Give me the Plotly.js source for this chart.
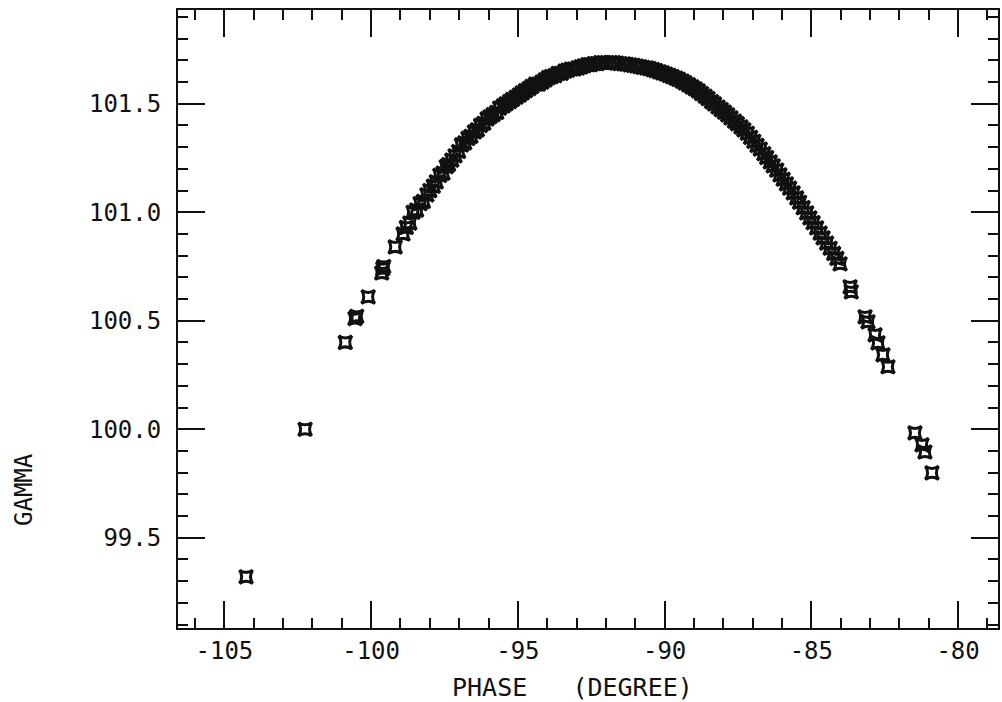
<!DOCTYPE html>
<html>
<head>
<meta charset="utf-8">
<script src="https://cdn.plot.ly/plotly-3.0.1.min.js"></script>
<style>
  html, body { margin: 0; padding: 0; background: #fff; }
  #plot { width: 1002px; height: 702px; }
</style>
</head>
<body>
<div id="plot"></div>
<script>
// Measured beam gamma versus RF phase
const phase = [
  -104.26, -102.25, -100.88, -100.55, -100.49, -100.10, -99.64, -99.60, -99.57, -99.18,
  -98.91, -98.80, -98.68, -98.57, -98.45, -98.33, -98.22, -98.10, -98.00, -97.88,
  -97.78, -97.66, -97.55, -97.44, -97.36, -97.25, -97.14, -97.02, -96.92, -96.81,
  -96.70, -96.60, -96.48, -96.38, -96.27, -96.16, -96.05, -95.95, -95.84, -95.72,
  -95.62, -95.50, -95.40, -95.28, -95.18, -95.06, -94.95, -94.85, -94.74, -94.62,
  -94.52, -94.40, -94.30, -94.18, -94.07, -93.96, -93.86, -93.74, -93.63, -93.52,
  -93.40, -93.30, -93.18, -93.08, -92.96, -92.85, -92.74, -92.62, -92.52, -92.40,
  -92.30, -92.18, -92.07, -91.96, -91.85, -91.74, -91.63, -91.52, -91.40, -91.30,
  -91.18, -91.07, -90.96, -90.85, -90.74, -90.62, -90.52, -90.40, -90.30, -90.18,
  -90.07, -89.96, -89.85, -89.74, -89.62, -89.52, -89.40, -89.30, -89.18, -89.07,
  -88.96, -88.85, -88.74, -88.62, -88.52, -88.40, -88.30, -88.18, -88.07, -87.96,
  -87.85, -87.74, -87.62, -87.52, -87.40, -87.30, -87.18, -87.07, -86.96, -86.85,
  -86.74, -86.62, -86.52, -86.40, -86.30, -86.18, -86.07, -85.96, -85.85, -85.74,
  -85.62, -85.50, -85.40, -85.28, -85.16, -85.05, -84.94, -84.82, -84.70, -84.60,
  -84.48, -84.36, -84.24, -84.13, -84.02, -83.68, -83.64, -83.17, -83.07, -82.83,
  -82.73, -82.56, -82.39, -81.47, -81.23, -81.13, -80.89
];
const gamma = [
  99.32, 100.00, 100.40, 100.51, 100.52, 100.61, 100.72, 100.74, 100.75, 100.84,
  100.90, 100.93, 100.95, 101.00, 101.01, 101.04, 101.05, 101.08, 101.10, 101.12,
  101.14, 101.17, 101.18, 101.21, 101.22, 101.24, 101.26, 101.28, 101.31, 101.32,
  101.34, 101.35, 101.37, 101.38, 101.40, 101.41, 101.43, 101.44, 101.45, 101.46,
  101.48, 101.49, 101.50, 101.51, 101.52, 101.53, 101.54, 101.55, 101.56, 101.57,
  101.58, 101.59, 101.59, 101.60, 101.61, 101.62, 101.625, 101.63, 101.64, 101.64,
  101.65, 101.655, 101.66, 101.66, 101.665, 101.67, 101.675, 101.68, 101.68, 101.685,
  101.685, 101.69, 101.69, 101.69, 101.69, 101.69, 101.687, 101.685, 101.684, 101.682,
  101.679, 101.677, 101.674, 101.671, 101.668, 101.665, 101.662, 101.657, 101.653, 101.647,
  101.642, 101.637, 101.631, 101.625, 101.618, 101.612, 101.604, 101.596, 101.587, 101.578,
  101.569, 101.559, 101.547, 101.535, 101.524, 101.510, 101.499, 101.485, 101.473, 101.461,
  101.449, 101.435, 101.420, 101.408, 101.393, 101.380, 101.364, 101.345, 101.327, 101.308,
  101.291, 101.270, 101.252, 101.232, 101.214, 101.194, 101.172, 101.152, 101.131, 101.111,
  101.089, 101.066, 101.046, 101.021, 100.997, 100.974, 100.952, 100.928, 100.904, 100.882,
  100.858, 100.834, 100.810, 100.787, 100.762, 100.656, 100.633, 100.518, 100.495, 100.435,
  100.398, 100.343, 100.288, 99.983, 99.928, 99.895, 99.799
];

// Axis tick labels (plain hyphen minus, as printed on the plotter)
const xTickVals = [-105, -100, -95, -90, -85, -80];
const xTickText = ['-105', '-100', '-95', '-90', '-85', '-80'];
const yTickVals = [99.5, 100.0, 100.5, 101.0, 101.5];
const yTickText = ['99.5', '100.0', '100.5', '101.0', '101.5'];

const xTitle = 'PHASE\u00a0\u00a0\u00a0(DEGREE)';
const yTitle = 'GAMMA';

const xRange = [-106.58, -78.64];
const yRange = [99.084, 101.932];

const FONT = '"DejaVu Sans Mono", monospace';
const INK = '#111';

// empty traces that keep the overlay tick axes alive
const minorHolder = { x: [], y: [], type: 'scatter', mode: 'markers', xaxis: 'x2', yaxis: 'y2' };
const majorHolder = { x: [], y: [], type: 'scatter', mode: 'markers', xaxis: 'x3', yaxis: 'y3' };

const trace = {
  x: phase,
  y: gamma,
  type: 'scatter',
  mode: 'markers',
  marker: { symbol: 'star-square-open', size: 12, color: INK, line: { color: INK, width: 3 } }
};

const frame = {
  showline: true, linecolor: INK, linewidth: 2,
  mirror: 'allticks', ticks: 'inside', tickcolor: INK, tickwidth: 2,
  showgrid: false, zeroline: false
};

const layout = {
  width: 1002,
  height: 702,
  margin: { l: 178, r: 4, t: 10, b: 74 },
  paper_bgcolor: '#fff',
  plot_bgcolor: '#fff',
  showlegend: false,
  // labelled axes
  xaxis: Object.assign({}, frame, {
    range: xRange, tickmode: 'array', tickvals: xTickVals, ticktext: xTickText,
    ticklen: 27, ticklabelstandoff: 0,
    tickfont: { family: FONT, size: 24, color: INK }
  }),
  yaxis: Object.assign({}, frame, {
    range: yRange, tickmode: 'array', tickvals: yTickVals, ticktext: yTickText,
    ticklen: 27, ticklabelstandoff: 10,
    tickfont: { family: FONT, size: 24, color: INK }
  }),
  // minor ticks, unlabeled
  xaxis2: Object.assign({}, frame, {
    overlaying: 'x', anchor: 'y', range: xRange,
    tickmode: 'linear', tick0: -105, dtick: 1, ticklen: 10, showticklabels: false
  }),
  yaxis2: Object.assign({}, frame, {
    overlaying: 'y', anchor: 'x', range: yRange,
    tickmode: 'linear', tick0: 99.5, dtick: 0.1, ticklen: 10, showticklabels: false
  }),
  // long major ticks, unlabeled
  xaxis3: Object.assign({}, frame, {
    overlaying: 'x', anchor: 'y', range: xRange,
    tickmode: 'array', tickvals: xTickVals, ticklen: 27, showticklabels: false
  }),
  yaxis3: Object.assign({}, frame, {
    overlaying: 'y', anchor: 'x', range: yRange,
    tickmode: 'array', tickvals: yTickVals, ticklen: 27, showticklabels: false
  }),
  annotations: [
    {
      text: xTitle, xref: 'paper', yref: 'paper',
      x: (572 - 178) / 820, y: -(687 - 628) / 618,
      xanchor: 'center', yanchor: 'middle', showarrow: false,
      font: { family: FONT, size: 25, color: INK }
    },
    {
      text: yTitle, xref: 'paper', yref: 'paper',
      x: (24 - 178) / 820, y: (628 - 490) / 618,
      xanchor: 'center', yanchor: 'middle', showarrow: false, textangle: -90,
      font: { family: FONT, size: 24, color: INK }
    }
  ]
};

Plotly.newPlot('plot', [minorHolder, majorHolder, trace], layout, { displayModeBar: false, staticPlot: true });
</script>
</body>
</html>
